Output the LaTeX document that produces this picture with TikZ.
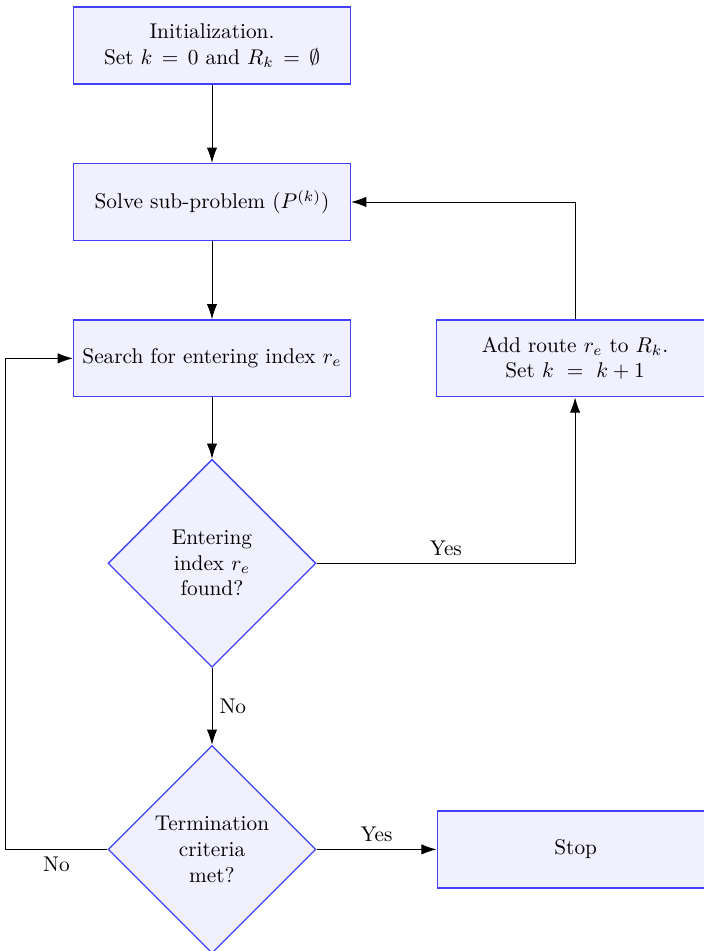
\documentclass[tikz,border=0pt]{standalone}
\usepackage{amsmath,amssymb}
\usepackage{tikz}
\usetikzlibrary{positioning}
\usetikzlibrary{shapes.geometric}
\usetikzlibrary{arrows.meta}

\begin{document}
\begin{tikzpicture}[node distance=1.29cm,
    >={Latex[length=2.5mm,width=1.7mm]},
    box/.style={draw=blue!75,line width=0.6pt,fill=blue!6,minimum width=4.57cm,minimum height=1.27cm,align=center},
    decision/.style={diamond,aspect=1,draw=blue!75,line width=0.6pt,fill=blue!6,minimum width=3.43cm,minimum height=3.43cm,inner sep=0pt,align=center}]
  \useasboundingbox (-3.498,0.751) rectangle (8.102,-14.941);
  \node[box](init) {Initialization.\\ Set $k\,=\,0$ and $R_k\,=\,\emptyset$};
  \node[below= of init,box](solve) {Solve sub-problem ($P^{(k)}$)};
  \node[below= of solve,box](search) {Search for entering index $r_e$};
  \node[below= 1.01cm of search,decision](found) {Entering\\ index $r_e$\\ found?};
  \node[below= 1.27cm of found,decision](term) {Termination\\ criteria\\ met?};
  \node[right= 1.40cm of search,box](add) {Add route $r_e$ to $R_k$.\\ Set $k\ =\ k+1$};
  \node[right= 1.98cm of term,box](stop) {Stop};
  \draw[->] (init)--(solve);
  \draw[->] (solve)--(search);
  \draw[->] (search)--(found);
  \draw[->] (found)--node[right]{No}(term);
  \draw[->] (found.east)-|node[above,pos=0.25]{Yes}(add.south);
  \draw[->] (add.north)|-(solve.east);
  \draw[->] (term.east)--node[above]{Yes}(stop);
  \draw[->] (term.west)--++(-1.685,0) node[midway,below]{No} |-(search.west);
\end{tikzpicture}
\end{document}
